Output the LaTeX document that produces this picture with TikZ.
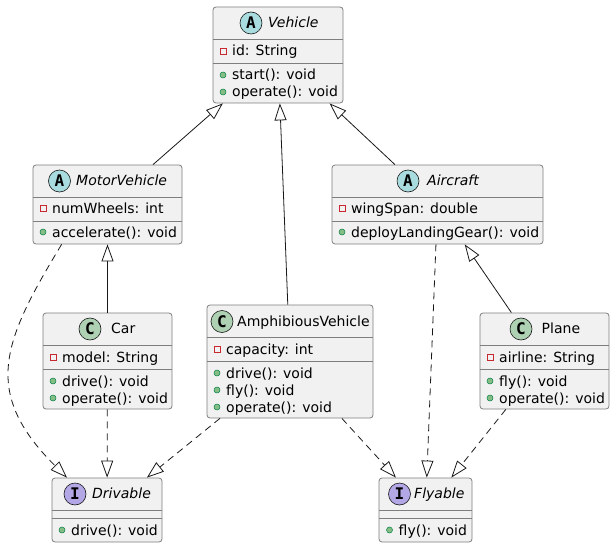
\documentclass[tikz,border=0pt]{standalone}
\usepackage{fontspec}
\setmainfont{DejaVu Sans}
\newfontfamily\iconfont{DejaVu Sans Mono}
\usetikzlibrary{arrows.meta}

\definecolor{boxfill}{HTML}{F1F1F1}
\definecolor{boxline}{HTML}{7E7E7E}
\definecolor{linecol}{HTML}{181818}
\definecolor{absfill}{HTML}{A9DCDF}
\definecolor{clsfill}{HTML}{ADD1B2}
\definecolor{intfill}{HTML}{B4A7E5}
\definecolor{privred}{HTML}{C82930}
\definecolor{pubfill}{HTML}{84BE84}
\definecolor{publine}{HTML}{038048}

\tikzset{
  box/.style={draw=boxline,fill=boxfill,rectangle,rounded corners=3pt,line width=0.8pt,inner sep=0pt},
  icon/.style={draw=linecol,circle,minimum size=22pt,inner sep=0pt,line width=0.6pt,font=\iconfont\bfseries\fontsize{16}{16}\selectfont},
  title/.style={anchor=base west,inner sep=0pt,font=\fontsize{14}{17}\selectfont},
  member/.style={anchor=base west,inner sep=0pt,font=\fontsize{14}{17}\selectfont},
  sep/.style={draw=boxline,line width=0.8pt},
  ext/.style={draw=linecol,line width=0.8pt,-{Triangle[open,length=17pt,width=12pt]}},
  real/.style={ext,dash pattern=on 7pt off 5pt}
}

\newcommand{\pubmark}[1]{\draw[publine,fill=pubfill,line width=0.5pt] (#1.base west) ++(-9,-5) circle (3pt);}
\newcommand{\privmark}[1]{\draw[privred,line width=0.6pt] (#1.base west) ++(-12,-8) rectangle ++(6,6);}

\begin{document}
\begin{tikzpicture}[x=1pt,y=-1pt]

\useasboundingbox (0,0) rectangle (615,548);

\node[box,minimum width=130pt,minimum height=96pt] (veh) at (278,55) {};
\node[icon,fill=absfill] (vehI) at (251,23) {A};
\node[title] (vehT) at (268,27.5) {\itshape Vehicle};
\draw[sep] (213,39) -- (343,39);
\draw[sep] (213,63) -- (343,63);
\node[member] (veh1) at (232,56) {id: String};
\node[member] (veh2) at (232,80) {start(): void};
\node[member] (veh3) at (232,97) {operate(): void};
\privmark{veh1} \pubmark{veh2} \pubmark{veh3}

\node[box,minimum width=149pt,minimum height=79pt] (mot) at (107.5,204.5) {};
\node[icon,fill=absfill] (motI) at (59.5,181) {A};
\node[title] (motT) at (76,185.5) {\itshape MotorVehicle};
\draw[sep] (33,197) -- (182,197);
\draw[sep] (33,221) -- (182,221);
\node[member] (mot1) at (52,213.5) {numWheels: int};
\node[member] (mot2) at (52,237) {accelerate(): void};
\privmark{mot1} \pubmark{mot2}

\node[box,minimum width=211pt,minimum height=79pt] (air) at (437.5,204.5) {};
\node[icon,fill=absfill] (airI) at (408,181) {A};
\node[title] (airT) at (427,185.5) {\itshape Aircraft};
\draw[sep] (332,197) -- (543,197);
\draw[sep] (332,221) -- (543,221);
\node[member] (air1) at (351,213.5) {wingSpan: double};
\node[member] (air2) at (351,237) {deployLandingGear(): void};
\privmark{air1} \pubmark{air2}

\node[box,minimum width=129pt,minimum height=96pt] (car) at (107.5,361) {};
\node[icon,fill=clsfill] (carI) at (90,329) {C};
\node[title] (carT) at (111,333.5) {Car};
\draw[sep] (43,345) -- (172,345);
\draw[sep] (43,369) -- (172,369);
\node[member] (car1) at (62,362) {model: String};
\node[member] (car2) at (62,386) {drive(): void};
\node[member] (car3) at (62,403) {operate(): void};
\privmark{car1} \pubmark{car2} \pubmark{car3}

\node[box,minimum width=166pt,minimum height=113pt] (amph) at (290,361.5) {};
\node[icon,fill=clsfill] (amphI) at (222,321.5) {C};
\node[title] (amphT) at (237,326) {AmphibiousVehicle};
\draw[sep] (207,337) -- (373,337);
\draw[sep] (207,361) -- (373,361);
\node[member] (amph1) at (226,354) {capacity: int};
\node[member] (amph2) at (226,378) {drive(): void};
\node[member] (amph3) at (226,395) {fly(): void};
\node[member] (amph4) at (226,412) {operate(): void};
\privmark{amph1} \pubmark{amph2} \pubmark{amph3} \pubmark{amph4}

\node[box,minimum width=129pt,minimum height=96pt] (plane) at (544.5,361) {};
\node[icon,fill=clsfill] (planeI) at (521,329) {C};
\node[title] (planeT) at (541.5,333.5) {Plane};
\draw[sep] (480,345) -- (609,345);
\draw[sep] (480,369) -- (609,369);
\node[member] (plane1) at (499,362) {airline: String};
\node[member] (plane2) at (499,386) {fly(): void};
\node[member] (plane3) at (499,403) {operate(): void};
\privmark{plane1} \pubmark{plane2} \pubmark{plane3}

\node[box,minimum width=110pt,minimum height=64pt] (drv) at (107,510) {};
\node[icon,fill=intfill] (drvI) at (75,494) {I};
\node[title] (drvT) at (92,498.5) {\itshape Drivable};
\draw[sep] (52,510) -- (162,510);
\draw[sep] (52,518) -- (162,518);
\node[member] (drv1) at (71,535) {drive(): void};
\pubmark{drv1}

\node[box,minimum width=93pt,minimum height=64pt] (fly) at (425.5,510) {};
\node[icon,fill=intfill] (flyI) at (399.5,494) {I};
\node[title] (flyT) at (414,498.5) {\itshape Flyable};
\draw[sep] (379,510) -- (472,510);
\draw[sep] (379,518) -- (472,518);
\node[member] (fly1) at (398.5,535) {fly(): void};
\pubmark{fly1}

\draw[ext] (mot) -- (veh);
\draw[ext] (amph) -- (veh);
\draw[ext] (air) -- (veh);
\draw[ext] (car) -- (mot);
\draw[ext] (plane) -- (air);
\draw[real] (mot.221) .. controls (3.5,340.5) and (-19.5,391.5) .. (drv.141);
\draw[real] (car) -- (drv);
\draw[real] (amph) -- (drv);
\draw[real] (amph) -- (fly);
\draw[real] (air) -- (fly);
\draw[real] (plane) -- (fly);

\end{tikzpicture}
\end{document}
